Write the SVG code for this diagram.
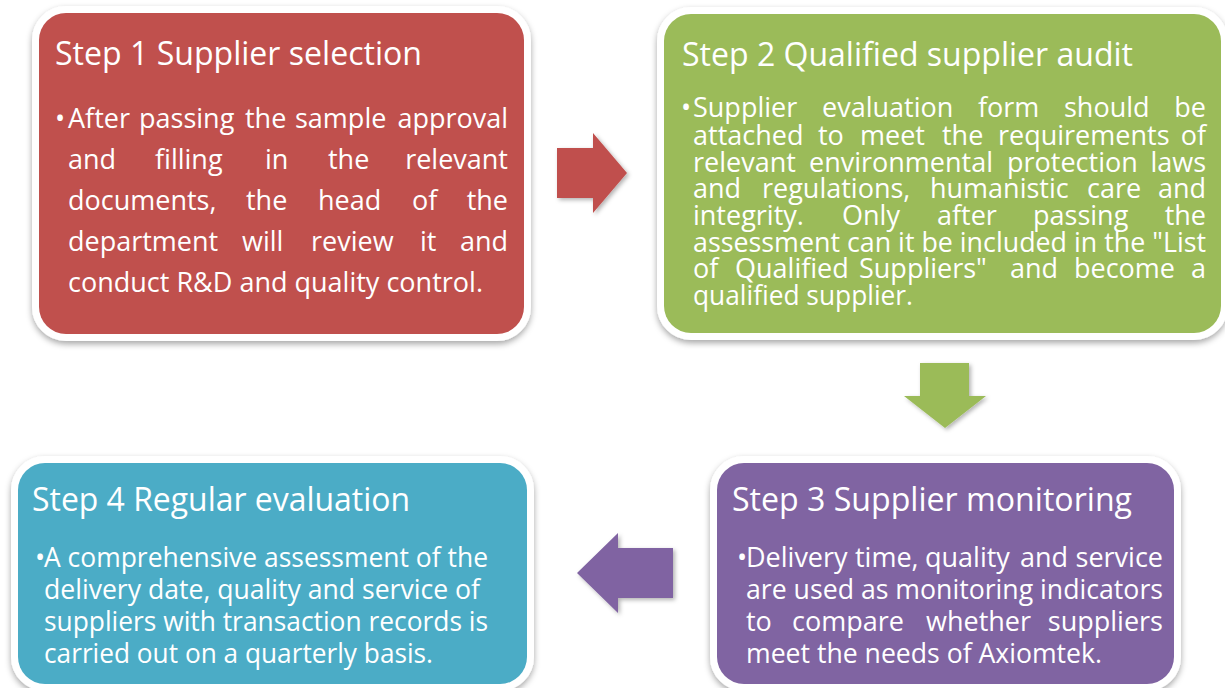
<svg xmlns="http://www.w3.org/2000/svg" width="1225" height="688" viewBox="0 0 1225 688">
  <defs>
    <filter id="boxShadow" x="-10%" y="-10%" width="120%" height="125%">
      <feDropShadow dx="0" dy="3" stdDeviation="3" flood-color="#000" flood-opacity="0.35"/>
    </filter>
    <filter id="arrowShadow" x="-20%" y="-20%" width="150%" height="150%">
      <feDropShadow dx="2" dy="2" stdDeviation="2" flood-color="#000" flood-opacity="0.3"/>
    </filter>
  </defs>
  <style>
    .frame { stroke: #ffffff; stroke-width: 14; filter: url(#boxShadow); }
    .title { font-family: "Open Sans", "Noto Sans", sans-serif; font-size: 32px; fill: #ffffff; }
    .body { font-family: "Open Sans", "Noto Sans", sans-serif; font-size: 27px; fill: #ffffff; }
    .end { text-anchor: end; }
    .red { fill: #C0504D; }
    .green { fill: #9BBB59; }
    .purple { fill: #8064A2; }
    .blue { fill: #4BACC6; }
  </style>
  <rect width="1225" height="688" fill="#ffffff"/>

  <g id="step1">
    <rect class="frame red" x="39" y="13" width="485" height="321" rx="27"/>
    <rect class="red" x="39" y="13" width="485" height="321" rx="27"/>
    <text class="title" x="55" y="65" textLength="367" lengthAdjust="spacingAndGlyphs">Step 1 Supplier selection</text>
    <text class="body" x="55" y="128">•</text>
    <text class="body" y="128"><tspan x="68">After</tspan><tspan x="139">passing</tspan><tspan x="245">the</tspan><tspan x="295">sample</tspan></text>
    <text class="body end" x="508" y="128">approval</text>
    <text class="body" y="169"><tspan x="68">and</tspan><tspan x="155">filling</tspan><tspan x="265">in</tspan><tspan x="328">the</tspan></text>
    <text class="body end" x="508" y="169">relevant</text>
    <text class="body" y="210"><tspan x="68">documents,</tspan><tspan x="246">the</tspan><tspan x="318">head</tspan><tspan x="412">of</tspan></text>
    <text class="body end" x="508" y="210">the</text>
    <text class="body" y="251"><tspan x="68">department</tspan><tspan x="242">will</tspan><tspan x="311">review</tspan><tspan x="420">it</tspan></text>
    <text class="body end" x="508" y="251">and</text>
    <text class="body" x="68" y="292" textLength="415" lengthAdjust="spacingAndGlyphs">conduct R&amp;D and quality control.</text>
  </g>

  <g id="step2">
    <rect class="frame green" x="664" y="14" width="557" height="319" rx="27"/>
    <rect class="green" x="664" y="14" width="557" height="319" rx="27"/>
    <text class="title" x="682" y="66" textLength="451" lengthAdjust="spacingAndGlyphs">Step 2 Qualified supplier audit</text>
    <text class="body" x="681" y="117">•</text>
    <text class="body" y="117"><tspan x="693">Supplier</tspan><tspan x="822">evaluation</tspan><tspan x="978">form</tspan><tspan x="1064">should</tspan></text>
    <text class="body end" x="1206" y="117">be</text>
    <text class="body" y="145"><tspan x="693">attached</tspan><tspan x="818">to</tspan><tspan x="860">meet</tspan><tspan x="942">the</tspan><tspan x="998">requirements</tspan></text>
    <text class="body end" x="1206" y="145">of</text>
    <text class="body" y="172"><tspan x="693">relevant</tspan><tspan x="809">environmental</tspan><tspan x="1007">protection</tspan></text>
    <text class="body end" x="1206" y="172">laws</text>
    <text class="body" y="198"><tspan x="693">and</tspan><tspan x="762">regulations,</tspan><tspan x="930">humanistic</tspan><tspan x="1087">care</tspan></text>
    <text class="body end" x="1206" y="198">and</text>
    <text class="body" y="225"><tspan x="693">integrity.</tspan><tspan x="842">Only</tspan><tspan x="937">after</tspan><tspan x="1033">passing</tspan></text>
    <text class="body end" x="1206" y="225">the</text>
    <text class="body" x="693" y="252" textLength="513" lengthAdjust="spacingAndGlyphs">assessment can it be included in the "List</text>
    <text class="body" y="278"><tspan x="693">of</tspan><tspan x="735">Qualified</tspan><tspan x="859">Suppliers"</tspan><tspan x="1010">and</tspan><tspan x="1074">become</tspan></text>
    <text class="body end" x="1206" y="278">a</text>
    <text class="body" x="693" y="305" textLength="220" lengthAdjust="spacingAndGlyphs">qualified supplier.</text>
  </g>

  <g id="step3">
    <rect class="frame purple" x="717" y="463" width="457" height="221" rx="27"/>
    <rect class="purple" x="717" y="463" width="457" height="221" rx="27"/>
    <text class="title" x="732" y="511" textLength="400" lengthAdjust="spacingAndGlyphs">Step 3 Supplier monitoring</text>
    <text class="body" x="737" y="567">•</text>
    <text class="body" y="567"><tspan x="746">Delivery</tspan><tspan x="855">time,</tspan><tspan x="925">quality</tspan><tspan x="1020">and</tspan></text>
    <text class="body end" x="1163" y="567">service</text>
    <text class="body" x="746" y="599" textLength="417" lengthAdjust="spacingAndGlyphs">are used as monitoring indicators</text>
    <text class="body" y="631"><tspan x="746">to</tspan><tspan x="792">compare</tspan><tspan x="926">whether</tspan></text>
    <text class="body end" x="1163" y="631">suppliers</text>
    <text class="body" x="746" y="663" textLength="356" lengthAdjust="spacingAndGlyphs">meet the needs of Axiomtek.</text>
  </g>

  <g id="step4">
    <rect class="frame blue" x="18" y="463" width="509" height="221" rx="27"/>
    <rect class="blue" x="18" y="463" width="509" height="221" rx="27"/>
    <text class="title" x="32" y="511" textLength="378" lengthAdjust="spacingAndGlyphs">Step 4 Regular evaluation</text>
    <text class="body" x="35" y="567">•</text>
    <text class="body" x="44" y="567" textLength="444" lengthAdjust="spacingAndGlyphs">A comprehensive assessment of the</text>
    <text class="body" x="44" y="599" textLength="436" lengthAdjust="spacingAndGlyphs">delivery date, quality and service of</text>
    <text class="body" x="44" y="631" textLength="444" lengthAdjust="spacingAndGlyphs">suppliers with transaction records is</text>
    <text class="body" x="44" y="663" textLength="389" lengthAdjust="spacingAndGlyphs">carried out on a quarterly basis.</text>
  </g>

  <g id="connectors" filter="url(#arrowShadow)">
    <polygon class="red" points="557,148 593,148 593,133 627,173 593,213 593,198 557,198"/>
    <polygon class="green" points="920,363 969,363 969,396 986,396 945,428 904,396 920,396"/>
    <polygon class="purple" points="673,548 618,548 618,533 577,573 618,613 618,598 673,598"/>
  </g>
</svg>
